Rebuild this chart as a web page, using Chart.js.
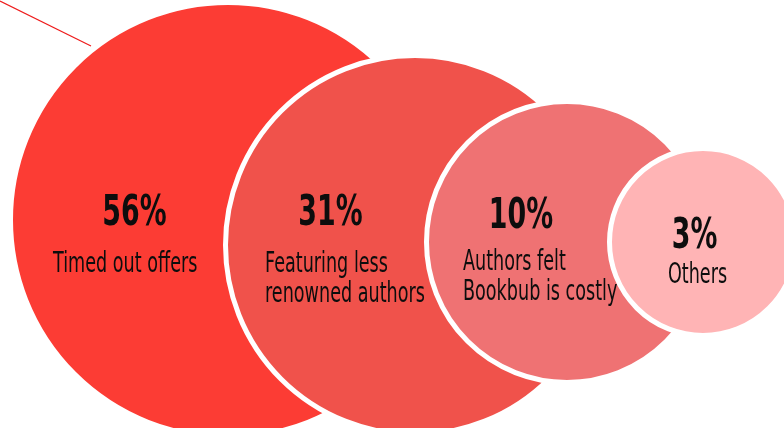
<!DOCTYPE html>
<html>
<head>
<meta charset="utf-8">
<script src="https://cdn.jsdelivr.net/npm/chart.js@4/dist/chart.umd.min.js"></script>
<style>
  html, body { margin: 0; padding: 0; background: #ffffff; }
  #wrap { width: 784px; height: 428px; }
</style>
</head>
<body>
<div id="wrap"><canvas id="chart" width="784" height="428"></canvas></div>
<script>
// Reasons publishers gave for leaving the deal newsletter (share of answers)
const categories = ["Timed out offers", "Featuring less renowned authors", "Authors felt Bookbub is costly", "Others"];
const shares = [56, 31, 10, 3];
const labelLines = [
  ["Timed out offers"],
  ["Featuring less", "renowned authors"],
  ["Authors felt", "Bookbub is costly"],
  ["Others"]
];

// Layout of the bubble cluster, in scale units (the scales span the canvas in px)
const bubbleCx = [228, 415, 567, 703];
const bubbleCy = [220, 245, 242, 242];
const bubbleR  = [217.5, 189.5, 140.5, 93.5];
const bubbleColors = ["#FC3C34", "#F0524B", "#EF7273", "#FFB4B5"];

// Caption placement relative to each bubble centre
const pctDx   = [-93.5, -84.5, -46, -8.5];
const pctDy   = [5, -20, -14, 6];
const textDx  = [-175, -150, -104, -5.5];
const textDy  = [52, 27, 28, 41];
const textAlign = ["left", "left", "left", "center"];

// Decorative leader line at the top-left corner
const leaderX = [0, 91];
const leaderY = [1, 46];

const CONDENSE = 0.64;
const FONT = "'DejaVu Sans', sans-serif";

function drawCondensed(ctx, text, x, y, align) {
  ctx.save();
  ctx.translate(x, y);
  ctx.scale(CONDENSE, 1);
  ctx.textAlign = align;
  ctx.fillText(text, 0, 0);
  ctx.restore();
}

const captionPlugin = {
  id: "bubbleCaptions",
  afterDatasetsDraw(chart) {
    const ctx = chart.ctx;
    const meta = chart.getDatasetMeta(1);
    ctx.save();
    ctx.fillStyle = "#0d0d0d";
    ctx.textBaseline = "alphabetic";
    meta.data.forEach((el, i) => {
      const cx = el.x, cy = el.y;
      ctx.font = "bold 42px " + FONT;
      drawCondensed(ctx, shares[i] + "%", cx + pctDx[i], cy + pctDy[i], "center");
      ctx.font = "27.5px " + FONT;
      labelLines[i].forEach((line, k) => {
        drawCondensed(ctx, line, cx + textDx[i], cy + textDy[i] + k * 30, textAlign[i]);
      });
    });
    ctx.restore();
  }
};

new Chart(document.getElementById("chart"), {
  data: {
    datasets: [
      {
        type: "line",
        label: "leader",
        data: leaderX.map((x, i) => ({ x: x, y: leaderY[i] })),
        borderColor: "#EE1C1C",
        borderWidth: 1.2,
        pointRadius: 0,
        fill: false,
        clip: false,
        order: 2
      },
      {
        type: "bubble",
        label: "Share of answers",
        data: categories.map((c, i) => ({ x: bubbleCx[i], y: bubbleCy[i], r: bubbleR[i] })),
        backgroundColor: bubbleColors,
        borderColor: "#ffffff",
        borderWidth: 5,
        hoverBorderWidth: 5,
        clip: false,
        order: 1
      }
    ]
  },
  options: {
    responsive: false,
    animation: false,
    events: [],
    layout: { padding: 0, autoPadding: false },
    scales: {
      x: { type: "linear", min: 0, max: 784, display: false },
      y: { type: "linear", min: 0, max: 428, reverse: true, display: false }
    },
    plugins: {
      legend: { display: false },
      tooltip: { enabled: false }
    }
  },
  plugins: [captionPlugin]
});
</script>
</body>
</html>
